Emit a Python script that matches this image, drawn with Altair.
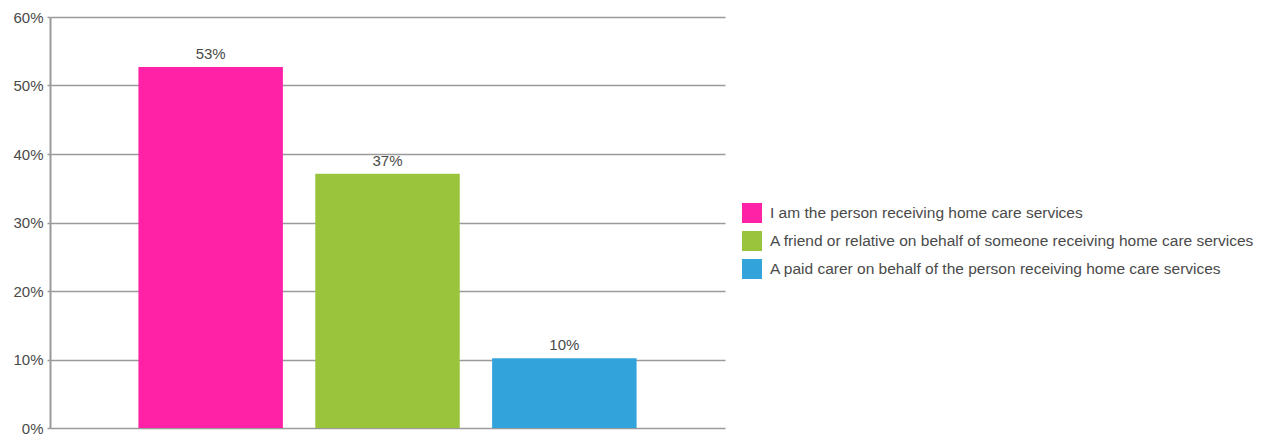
import altair as alt
import pandas as pd

categories = [
    "I am the person receiving home care services",
    "A friend or relative on behalf of someone receiving home care services",
    "A paid carer on behalf of the person receiving home care services",
]
values = [52.7, 37.1, 10.2]
labels = ["53%", "37%", "10%"]
colors = ["#FF22A6", "#99C43B", "#33A3DC"]

df = pd.DataFrame({"cat": categories, "val": values, "lab": labels})

xscale = alt.Scale(paddingInner=0.183, paddingOuter=0.5)
y = alt.Y("val:Q", scale=alt.Scale(domain=[0, 60], nice=False),
          axis=alt.Axis(values=[0, 10, 20, 30, 40, 50, 60], title=None,
                        labelExpr="datum.value + '%'", grid=True,
                        gridColor="#9a9a9a", gridWidth=1.5,
                        domainColor="#9a9a9a", domainWidth=2,
                        tickColor="#9a9a9a", tickSize=3, tickWidth=1.5,
                        labelFont="Liberation Sans", labelFontSize=15,
                        labelColor="#4a4a4a", labelPadding=4))

bars = alt.Chart(df).mark_bar(opacity=1).encode(
    x=alt.X("cat:N", sort=categories, axis=None, scale=xscale),
    y=y,
    color=alt.Color("cat:N", sort=categories,
                    scale=alt.Scale(domain=categories, range=colors),
                    legend=alt.Legend(title=None, orient="none", legendX=692, legendY=186,
                                      symbolType="square", symbolSize=400,
                                      symbolStrokeWidth=0, symbolOpacity=1,
                                      labelFont="Liberation Sans", labelFontSize=15.5,
                                      labelColor="#4a4a4a", labelLimit=600,
                                      rowPadding=8, labelOffset=8)),
)

text = alt.Chart(df).mark_text(baseline="bottom", dy=-5, font="Liberation Sans",
                               fontSize=15, color="#4a4a4a").encode(
    x=alt.X("cat:N", sort=categories, axis=None, scale=xscale),
    y=alt.Y("val:Q"),
    text="lab:N",
)

chart = (bars + text).properties(
    width=675, height=411,
    autosize=alt.AutoSizeParams(type="none"),
    padding={"left": 42, "top": 9, "right": 538, "bottom": 8},
).configure_view(stroke=None)

chart.save("out.html", embed_options={"renderer": "svg", "actions": False})
